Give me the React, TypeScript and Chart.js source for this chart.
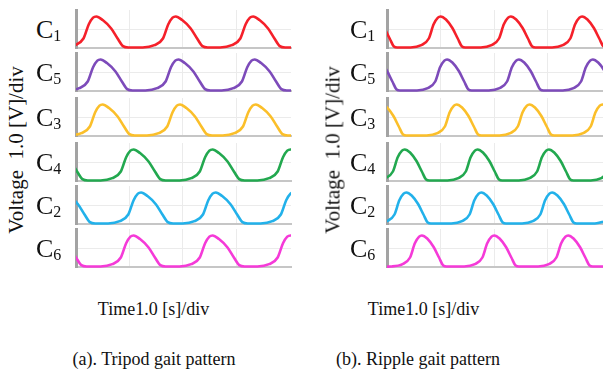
import React, { useEffect, useRef } from "react";
import { Chart, registerables } from "chart.js";

Chart.register(...registerables);

type Pt = [number, number];

// ---------- DATA (time in div, voltage in div) ----------
const rowSubscripts = ["1", "5", "3", "4", "2", "6"];
const rowColors = ["#f5202a", "#7d4bba", "#fbbf2a", "#22a84f", "#22b1ea", "#f53ad8"];
const xGridTicks = [1, 2, 3];
const yGridTicks = [1];
const xMax = 4.03;
const yMax = 2;

// (a) Tripod gait
const tripodC1: Pt[] = [
  [-0.24, 0.03], [-0.02, 0.15], [0.14, 0.5], [0.24, 1.25], [0.32, 1.6], [0.38, 1.66], [0.5, 1.47], [0.66, 1.03], [0.78, 0.5], [0.88, 0.1], [0.98, 0.03],
  [1.25, 0.03], [1.47, 0.15], [1.63, 0.5], [1.73, 1.25], [1.81, 1.6], [1.87, 1.66], [1.99, 1.47], [2.15, 1.03], [2.27, 0.5], [2.37, 0.1], [2.47, 0.03],
  [2.7, 0.03], [2.92, 0.15], [3.08, 0.5], [3.18, 1.25], [3.26, 1.6], [3.32, 1.66], [3.44, 1.47], [3.6, 1.03], [3.72, 0.5], [3.82, 0.1], [3.92, 0.03], [4.2, 0.03],
];
const tripodC5: Pt[] = [
  [-0.16, 0.03], [0.06, 0.15], [0.22, 0.5], [0.32, 1.25], [0.4, 1.6], [0.46, 1.66], [0.58, 1.47], [0.74, 1.03], [0.86, 0.5], [0.96, 0.1], [1.06, 0.03],
  [1.3, 0.03], [1.52, 0.15], [1.68, 0.5], [1.78, 1.25], [1.86, 1.6], [1.92, 1.66], [2.04, 1.47], [2.2, 1.03], [2.32, 0.5], [2.42, 0.1], [2.52, 0.03],
  [2.73, 0.03], [2.95, 0.15], [3.11, 0.5], [3.21, 1.25], [3.29, 1.6], [3.35, 1.66], [3.47, 1.47], [3.63, 1.03], [3.75, 0.5], [3.85, 0.1], [3.95, 0.03], [4.2, 0.03],
];
const tripodC3: Pt[] = [
  [-0.12, 0.03], [0.1, 0.15], [0.26, 0.5], [0.36, 1.25], [0.44, 1.6], [0.5, 1.66], [0.62, 1.47], [0.78, 1.03], [0.9, 0.5], [1.0, 0.1], [1.1, 0.03],
  [1.33, 0.03], [1.55, 0.15], [1.71, 0.5], [1.81, 1.25], [1.89, 1.6], [1.95, 1.66], [2.07, 1.47], [2.23, 1.03], [2.35, 0.5], [2.45, 0.1], [2.55, 0.03],
  [2.75, 0.03], [2.97, 0.15], [3.13, 0.5], [3.23, 1.25], [3.31, 1.6], [3.37, 1.66], [3.49, 1.47], [3.65, 1.03], [3.77, 0.5], [3.87, 0.1], [3.97, 0.03], [4.2, 0.03],
];
const tripodC4: Pt[] = [
  [-0.38, 1.66], [-0.26, 1.47], [-0.1, 1.03], [0.02, 0.5], [0.12, 0.1], [0.22, 0.03],
  [0.46, 0.03], [0.68, 0.15], [0.84, 0.5], [0.94, 1.25], [1.02, 1.6], [1.08, 1.66], [1.2, 1.47], [1.36, 1.03], [1.48, 0.5], [1.58, 0.1], [1.68, 0.03],
  [1.94, 0.03], [2.16, 0.15], [2.32, 0.5], [2.42, 1.25], [2.5, 1.6], [2.56, 1.66], [2.68, 1.47], [2.84, 1.03], [2.96, 0.5], [3.06, 0.1], [3.16, 0.03],
  [3.4, 0.03], [3.62, 0.15], [3.78, 0.5], [3.88, 1.25], [3.96, 1.6], [4.02, 1.66], [4.14, 1.47],
];
const tripodC2: Pt[] = [
  [-0.24, 1.66], [-0.12, 1.47], [0.04, 1.03], [0.16, 0.5], [0.26, 0.1], [0.36, 0.03],
  [0.6, 0.03], [0.82, 0.15], [0.98, 0.5], [1.08, 1.25], [1.16, 1.6], [1.22, 1.66], [1.34, 1.47], [1.5, 1.03], [1.62, 0.5], [1.72, 0.1], [1.82, 0.03],
  [2.0, 0.03], [2.22, 0.15], [2.38, 0.5], [2.48, 1.25], [2.56, 1.6], [2.62, 1.66], [2.74, 1.47], [2.9, 1.03], [3.02, 0.5], [3.12, 0.1], [3.22, 0.03],
  [3.46, 0.03], [3.68, 0.15], [3.84, 0.5], [3.94, 1.25], [4.02, 1.6], [4.08, 1.66], [4.2, 1.47],
];
const tripodC6: Pt[] = [
  [-0.4, 1.66], [-0.28, 1.47], [-0.12, 1.03], [0.0, 0.5], [0.1, 0.1], [0.2, 0.03],
  [0.46, 0.03], [0.68, 0.15], [0.84, 0.5], [0.94, 1.25], [1.02, 1.6], [1.08, 1.66], [1.2, 1.47], [1.36, 1.03], [1.48, 0.5], [1.58, 0.1], [1.68, 0.03],
  [1.94, 0.03], [2.16, 0.15], [2.32, 0.5], [2.42, 1.25], [2.5, 1.6], [2.56, 1.66], [2.68, 1.47], [2.84, 1.03], [2.96, 0.5], [3.06, 0.1], [3.16, 0.03],
  [3.4, 0.03], [3.62, 0.15], [3.78, 0.5], [3.88, 1.25], [3.96, 1.6], [4.02, 1.66], [4.14, 1.47],
];

// (b) Ripple gait
const rippleC1: Pt[] = [
  [-0.27, 1.66], [-0.17, 1.5], [-0.05, 1.05], [0.05, 0.5], [0.13, 0.08], [0.19, 0.03],
  [0.44, 0.03], [0.64, 0.15], [0.78, 0.5], [0.87, 1.25], [0.95, 1.6], [1.0, 1.66], [1.1, 1.5], [1.22, 1.05], [1.32, 0.5], [1.4, 0.08], [1.46, 0.03],
  [1.75, 0.03], [1.95, 0.15], [2.09, 0.5], [2.18, 1.25], [2.26, 1.6], [2.31, 1.66], [2.41, 1.5], [2.53, 1.05], [2.63, 0.5], [2.71, 0.08], [2.77, 0.03],
  [3.08, 0.03], [3.28, 0.15], [3.42, 0.5], [3.51, 1.25], [3.59, 1.6], [3.64, 1.66], [3.74, 1.5], [3.86, 1.05], [3.96, 0.5], [4.04, 0.08], [4.1, 0.03],
];
const rippleC5: Pt[] = [
  [-0.22, 1.66], [-0.12, 1.5], [0.0, 1.05], [0.1, 0.5], [0.18, 0.08], [0.24, 0.03],
  [0.56, 0.03], [0.76, 0.15], [0.9, 0.5], [0.99, 1.25], [1.07, 1.6], [1.12, 1.66], [1.22, 1.5], [1.34, 1.05], [1.44, 0.5], [1.52, 0.08], [1.58, 0.03],
  [1.9, 0.03], [2.1, 0.15], [2.24, 0.5], [2.33, 1.25], [2.41, 1.6], [2.46, 1.66], [2.56, 1.5], [2.68, 1.05], [2.78, 0.5], [2.86, 0.08], [2.92, 0.03],
  [3.28, 0.03], [3.48, 0.15], [3.62, 0.5], [3.71, 1.25], [3.79, 1.6], [3.84, 1.66], [3.94, 1.5], [4.06, 1.05], [4.16, 0.5],
];
const rippleC3: Pt[] = [
  [-0.1, 1.66], [0.0, 1.5], [0.12, 1.05], [0.22, 0.5], [0.3, 0.08], [0.36, 0.03],
  [0.74, 0.03], [0.94, 0.15], [1.08, 0.5], [1.17, 1.25], [1.25, 1.6], [1.3, 1.66], [1.4, 1.5], [1.52, 1.05], [1.62, 0.5], [1.7, 0.08], [1.76, 0.03],
  [2.1, 0.03], [2.3, 0.15], [2.44, 0.5], [2.53, 1.25], [2.61, 1.6], [2.66, 1.66], [2.76, 1.5], [2.88, 1.05], [2.98, 0.5], [3.06, 0.08], [3.12, 0.03],
  [3.46, 0.03], [3.66, 0.15], [3.8, 0.5], [3.89, 1.25], [3.97, 1.6], [4.02, 1.66], [4.12, 1.5],
];
const rippleC4: Pt[] = [
  [-0.23, 0.03], [-0.03, 0.15], [0.11, 0.5], [0.2, 1.25], [0.28, 1.6], [0.33, 1.66], [0.43, 1.5], [0.55, 1.05], [0.65, 0.5], [0.73, 0.08], [0.79, 0.03],
  [1.13, 0.03], [1.33, 0.15], [1.47, 0.5], [1.56, 1.25], [1.64, 1.6], [1.69, 1.66], [1.79, 1.5], [1.91, 1.05], [2.01, 0.5], [2.09, 0.08], [2.15, 0.03],
  [2.46, 0.03], [2.66, 0.15], [2.8, 0.5], [2.89, 1.25], [2.97, 1.6], [3.02, 1.66], [3.12, 1.5], [3.24, 1.05], [3.34, 0.5], [3.42, 0.08], [3.48, 0.03],
  [3.8, 0.03], [4.0, 0.15], [4.14, 0.5],
];
const rippleC2: Pt[] = [
  [-0.2, 0.03], [0.0, 0.15], [0.14, 0.5], [0.23, 1.25], [0.31, 1.6], [0.36, 1.66], [0.46, 1.5], [0.58, 1.05], [0.68, 0.5], [0.76, 0.08], [0.82, 0.03],
  [1.2, 0.03], [1.4, 0.15], [1.54, 0.5], [1.63, 1.25], [1.71, 1.6], [1.76, 1.66], [1.86, 1.5], [1.98, 1.05], [2.08, 0.5], [2.16, 0.08], [2.22, 0.03],
  [2.52, 0.03], [2.72, 0.15], [2.86, 0.5], [2.95, 1.25], [3.03, 1.6], [3.08, 1.66], [3.18, 1.5], [3.3, 1.05], [3.4, 0.5], [3.48, 0.08], [3.54, 0.03],
  [3.88, 0.03], [4.08, 0.15],
];
const rippleC6: Pt[] = [
  [-0.1, 0.02], [0.09, 0.03], [0.29, 0.15], [0.43, 0.5], [0.52, 1.25], [0.6, 1.6], [0.65, 1.66], [0.75, 1.5], [0.87, 1.05], [0.97, 0.5], [1.05, 0.08], [1.11, 0.03],
  [1.44, 0.03], [1.64, 0.15], [1.78, 0.5], [1.87, 1.25], [1.95, 1.6], [2.0, 1.66], [2.1, 1.5], [2.22, 1.05], [2.32, 0.5], [2.4, 0.08], [2.46, 0.03],
  [2.82, 0.03], [3.02, 0.15], [3.16, 0.5], [3.25, 1.25], [3.33, 1.6], [3.38, 1.66], [3.48, 1.5], [3.6, 1.05], [3.7, 0.5], [3.78, 0.08], [3.84, 0.03], [4.2, 0.03],
];

const tripodSeries = [tripodC1, tripodC5, tripodC3, tripodC4, tripodC2, tripodC6];
const rippleSeries = [rippleC1, rippleC5, rippleC3, rippleC4, rippleC2, rippleC6];

const yTitle = "Voltage  1.0 [V]/div";
const xTitle = "Time1.0 [s]/div";
const captions = ["(a). Tripod gait pattern", "(b). Ripple gait pattern"];

// ---------- LAYOUT ----------
const rowTops = [10, 53, 98, 143, 186, 229];
const rowHeight = 38;
const panels = [
  { plotLeft: 76, plotWidth: 215, labelLeft: 36, yTitleX: 16, xTitleX: 153.5, captionX: 154, series: tripodSeries },
  { plotLeft: 387, plotWidth: 216, labelLeft: 350, yTitleX: 333, xTitleX: 423.5, captionX: 418, series: rippleSeries },
];
const FONT = "'Liberation Serif', 'Times New Roman', serif";
const PAD = { left: 3, right: 2, top: 3, bottom: 2 };

function RowChart(props: { data: Pt[]; color: string; left: number; top: number; width: number; height: number }) {
  const { data, color, left, top, width, height } = props;
  const ref = useRef<HTMLCanvasElement>(null);
  useEffect(() => {
    const chart = new Chart(ref.current as HTMLCanvasElement, {
      type: "line",
      data: {
        datasets: [
          {
            data: data.map(([x, y]) => ({ x, y })),
            borderColor: color,
            borderWidth: 2.6,
            pointRadius: 0,
            fill: false,
            cubicInterpolationMode: "monotone",
            clip: { left: 0, right: 0, top: 5, bottom: 5 } as any,
          },
        ],
      },
      options: {
        responsive: false,
        animation: false,
        devicePixelRatio: 1,
        layout: { padding: PAD },
        plugins: { legend: { display: false }, tooltip: { enabled: false } },
        events: [],
        scales: {
          x: {
            type: "linear",
            min: 0,
            max: xMax,
            ticks: { display: false },
            grid: { color: "#ebebeb", lineWidth: 1, drawTicks: false },
            border: { display: true, color: "#c6c6c6", width: 2 },
            afterBuildTicks: (s: any) => {
              s.ticks = xGridTicks.map((v) => ({ value: v }));
            },
          },
          y: {
            type: "linear",
            min: 0,
            max: yMax,
            ticks: { display: false },
            grid: { color: "#ebebeb", lineWidth: 1, drawTicks: false },
            border: { display: true, color: "#a3a3a3", width: 3 },
            afterBuildTicks: (s: any) => {
              s.ticks = yGridTicks.map((v) => ({ value: v }));
            },
          },
        },
      } as any,
    });
    return () => chart.destroy();
  }, [data, color]);
  const w = width + PAD.left + PAD.right;
  const h = height + PAD.top + PAD.bottom;
  return (
    <canvas
      ref={ref}
      width={w}
      height={h}
      style={{ position: "absolute", left: left - PAD.left, top: top - PAD.top, width: w, height: h }}
    />
  );
}

export default function App() {
  return (
    <div
      style={{
        position: "fixed",
        left: 0,
        top: 0,
        width: 603,
        height: 376,
        overflow: "hidden",
        background: "#ffffff",
        fontFamily: FONT,
        color: "#111",
      }}
    >
      {panels.map((p, pi) => (
        <React.Fragment key={pi}>
          {p.series.map((s, i) => (
            <React.Fragment key={i}>
              <RowChart data={s} color={rowColors[i]} left={p.plotLeft} top={rowTops[i]} width={p.plotWidth} height={rowHeight} />
              <div
                style={{
                  position: "absolute",
                  left: p.labelLeft,
                  top: rowTops[i] + 7,
                  fontSize: 26,
                  lineHeight: 1,
                  whiteSpace: "nowrap",
                }}
              >
                <span>C</span>
                <span style={{ fontSize: 16, position: "relative", top: 3 }}>{rowSubscripts[i]}</span>
              </div>
            </React.Fragment>
          ))}
          <div
            style={{
              position: "absolute",
              left: p.yTitleX,
              top: 150,
              fontSize: 21,
              lineHeight: 1,
              whiteSpace: "pre",
              transform: "translate(-50%, -50%) rotate(-90deg)",
            }}
          >
            {yTitle}
          </div>
          <div
            style={{
              position: "absolute",
              left: p.xTitleX,
              top: 300,
              fontSize: 18,
              lineHeight: 1,
              whiteSpace: "nowrap",
              transform: "translateX(-50%)",
            }}
          >
            {xTitle}
          </div>
          <div
            style={{
              position: "absolute",
              left: p.captionX,
              top: 350,
              fontSize: 18,
              lineHeight: 1,
              whiteSpace: "nowrap",
              transform: "translateX(-50%)",
            }}
          >
            {captions[pi]}
          </div>
        </React.Fragment>
      ))}
    </div>
  );
}
